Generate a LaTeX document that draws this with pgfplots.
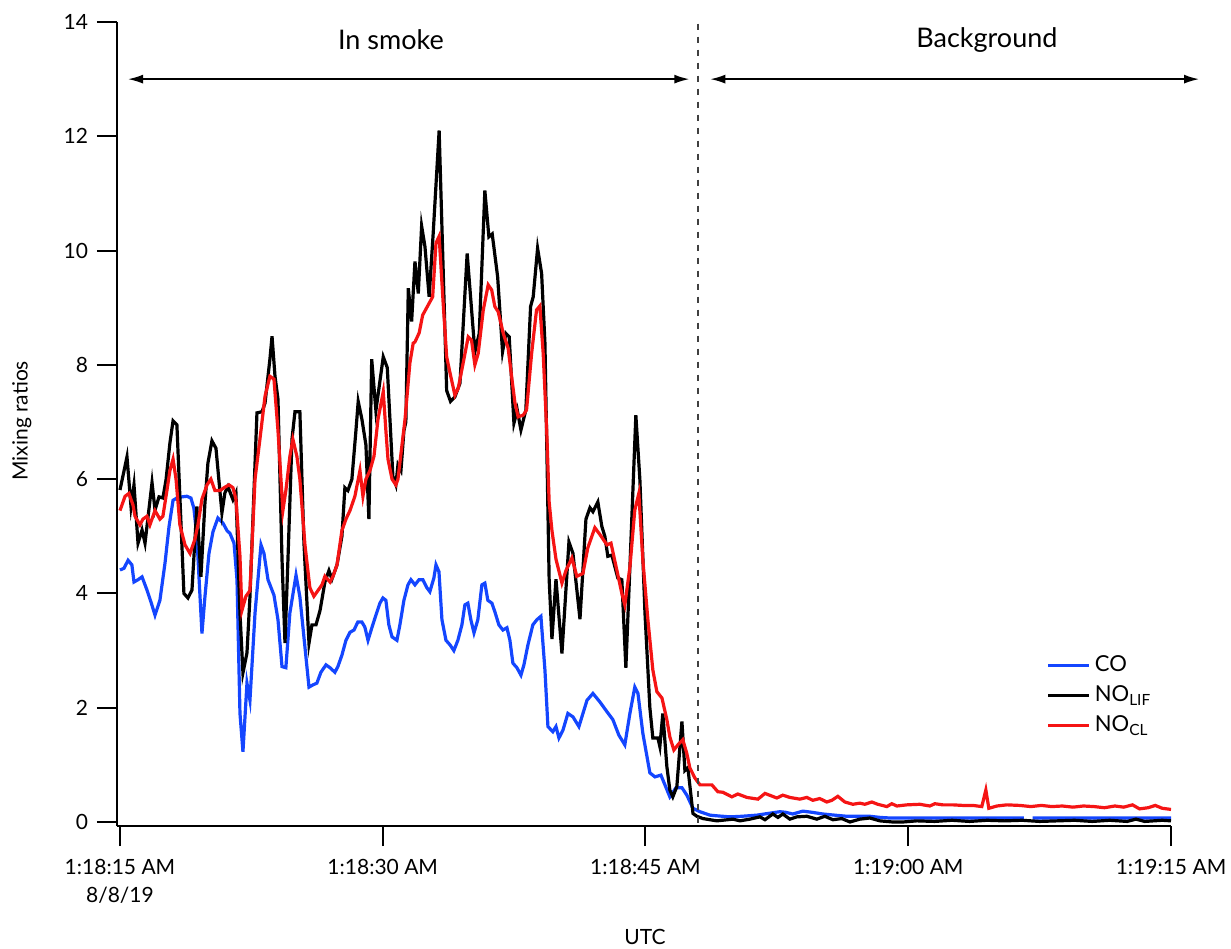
\documentclass[border=0pt]{standalone}
\usepackage{fontspec}
\setmainfont{Lato}
\usepackage{pgfplots}
\pgfplotsset{compat=1.18}
\usepackage{pgfplotstable}
\usetikzlibrary{arrows.meta}
\definecolor{coblue}{RGB}{20,70,255}
\definecolor{nored}{RGB}{245,20,20}

\pgfplotstableread[row sep=\\]{
t v\\
0.00 4.41\\ 0.23 4.44\\ 0.46 4.58\\ 0.68 4.50\\ 0.80 4.20\\ 1.03 4.24\\ 1.26 4.29\\ 1.54 4.06\\ 1.77 3.85\\ 2.00 3.62\\
2.28 3.88\\ 2.57 4.53\\ 2.80 5.17\\ 3.03 5.63\\ 3.25 5.67\\ 3.54 5.69\\ 3.82 5.70\\ 4.05 5.67\\ 4.22 5.49\\ 4.39 4.99\\
4.68 3.30\\ 4.85 3.94\\ 5.08 4.70\\ 5.31 5.08\\ 5.59 5.32\\ 5.88 5.23\\ 6.11 5.10\\ 6.28 5.05\\ 6.51 4.88\\ 6.68 4.24\\
6.85 1.90\\ 7.02 1.23\\ 7.25 2.43\\ 7.42 2.13\\ 7.71 3.66\\ 8.05 4.85\\ 8.22 4.70\\ 8.45 4.24\\ 8.79 3.97\\ 9.02 3.54\\
9.25 2.72\\ 9.47 2.70\\ 9.70 3.66\\ 10.05 4.32\\ 10.27 3.94\\ 10.79 2.36\\ 11.02 2.40\\ 11.24 2.43\\ 11.47 2.62\\ 11.76 2.75\\
11.99 2.70\\ 12.27 2.62\\ 12.44 2.72\\ 12.67 2.92\\ 12.90 3.18\\ 13.13 3.32\\ 13.36 3.36\\ 13.58 3.50\\ 13.81 3.50\\ 13.98 3.41\\
14.16 3.18\\ 14.38 3.40\\ 14.61 3.62\\ 14.84 3.83\\ 15.01 3.92\\ 15.18 3.88\\ 15.35 3.45\\ 15.53 3.24\\ 15.81 3.18\\ 15.98 3.45\\
16.21 3.88\\ 16.44 4.15\\ 16.61 4.24\\ 16.84 4.15\\ 17.07 4.24\\ 17.29 4.24\\ 17.52 4.10\\ 17.69 4.03\\ 17.92 4.27\\ 18.04 4.50\\
18.21 4.38\\ 18.38 3.54\\ 18.61 3.18\\ 18.84 3.10\\ 19.06 3.00\\ 19.29 3.18\\ 19.52 3.45\\ 19.69 3.80\\ 19.86 3.83\\ 20.03 3.54\\
20.21 3.31\\ 20.43 3.54\\ 20.66 4.15\\ 20.83 4.18\\ 21.00 3.88\\ 21.23 3.83\\ 21.40 3.68\\ 21.63 3.45\\ 21.86 3.36\\ 22.09 3.40\\
22.26 3.18\\ 22.43 2.78\\ 22.66 2.70\\ 22.89 2.57\\ 23.06 2.75\\ 23.29 3.10\\ 23.57 3.45\\ 23.80 3.54\\ 24.03 3.60\\ 24.26 2.66\\
24.43 1.67\\ 24.71 1.58\\ 24.89 1.67\\ 25.06 1.47\\ 25.29 1.61\\ 25.57 1.90\\ 25.86 1.84\\ 26.20 1.67\\ 26.66 2.13\\ 27.00 2.25\\
27.40 2.10\\ 27.80 1.93\\ 28.14 1.79\\ 28.48 1.52\\ 28.82 1.35\\ 29.11 1.90\\ 29.39 2.36\\ 29.57 2.25\\ 29.85 1.55\\ 30.25 0.86\\
30.54 0.79\\ 30.88 0.82\\ 31.11 0.65\\ 31.39 0.44\\ 31.74 0.60\\ 32.08 0.60\\ 32.36 0.47\\ 32.71 0.24\\ 33.11 0.18\\ 33.68 0.12\\
34.00 0.11\\ 34.82 0.09\\ 35.50 0.10\\ 36.36 0.12\\ 37.00 0.15\\ 37.67 0.18\\ 38.00 0.17\\ 38.41 0.14\\ 38.98 0.19\\ 39.50 0.17\\
40.13 0.14\\ 40.80 0.12\\ 41.50 0.10\\ 42.20 0.10\\ 42.81 0.10\\ 43.40 0.08\\ 43.95 0.07\\ 45.00 0.07\\ 47.00 0.07\\ 49.00 0.07\\
51.60 0.07\\ 51.80 nan\\ 52.10 0.07\\ 55.00 0.07\\ 58.00 0.07\\ 60.00 0.07\\
}\coData

\pgfplotstableread[row sep=\\]{
t v\\
0.00 5.81\\ 0.40 6.39\\ 0.63 5.52\\ 0.80 5.90\\ 1.03 4.88\\ 1.26 5.11\\ 1.43 4.88\\ 1.83 5.94\\ 2.00 5.46\\ 2.23 5.69\\
2.45 5.67\\ 2.63 5.99\\ 2.85 6.63\\ 3.03 7.02\\ 3.25 6.95\\ 3.42 5.69\\ 3.65 4.00\\ 3.88 3.92\\ 4.11 4.06\\ 4.39 5.52\\
4.62 4.29\\ 4.85 5.58\\ 5.02 6.28\\ 5.25 6.67\\ 5.48 6.54\\ 5.82 5.41\\ 5.99 5.76\\ 6.16 5.87\\ 6.45 5.64\\ 6.62 5.76\\
6.85 3.66\\ 7.02 2.61\\ 7.25 2.96\\ 7.42 3.94\\ 7.82 7.16\\ 8.11 7.18\\ 8.28 7.33\\ 8.56 8.10\\ 8.68 8.50\\ 8.85 7.80\\
9.02 7.40\\ 9.25 4.60\\ 9.42 3.13\\ 9.59 4.60\\ 9.82 6.70\\ 9.99 7.18\\ 10.27 7.18\\ 10.50 4.90\\ 10.79 3.13\\ 10.96 3.45\\
11.19 3.45\\ 11.42 3.70\\ 11.70 4.20\\ 11.93 4.40\\ 12.10 4.25\\ 12.39 4.50\\ 12.67 5.00\\ 12.84 5.85\\ 13.01 5.80\\ 13.24 6.00\\
13.47 6.85\\ 13.60 7.36\\ 13.81 7.05\\ 14.04 6.60\\ 14.21 5.30\\ 14.37 8.10\\ 14.61 7.20\\ 15.03 8.14\\ 15.26 7.95\\ 15.47 6.70\\
15.58 6.05\\ 15.75 5.90\\ 15.87 6.25\\ 16.04 6.15\\ 16.21 6.85\\ 16.32 7.00\\ 16.46 9.34\\ 16.65 8.76\\ 16.84 9.81\\ 17.03 9.25\\
17.22 10.43\\ 17.41 10.07\\ 17.65 9.19\\ 17.88 10.30\\ 18.22 12.10\\ 18.65 7.55\\ 18.87 7.36\\ 19.12 7.44\\ 19.41 7.68\\ 19.82 9.95\\
20.26 8.23\\ 20.51 8.55\\ 20.83 11.05\\ 21.06 10.24\\ 21.25 10.29\\ 21.56 9.54\\ 21.84 8.23\\ 22.03 8.55\\ 22.22 8.49\\ 22.49 6.98\\
22.68 7.21\\ 22.89 6.86\\ 23.17 7.21\\ 23.44 9.02\\ 23.59 9.19\\ 23.84 10.04\\ 24.07 9.60\\ 24.26 8.38\\ 24.50 4.25\\ 24.66 3.20\\
24.89 4.25\\ 25.23 2.95\\ 25.63 4.90\\ 25.86 4.70\\ 26.26 3.55\\ 26.60 5.30\\ 26.83 5.50\\ 27.00 5.43\\ 27.28 5.60\\ 27.51 5.17\\
27.68 5.00\\ 27.85 4.65\\ 28.08 4.67\\ 28.42 4.27\\ 28.65 4.24\\ 28.88 2.70\\ 29.11 4.46\\ 29.45 7.12\\ 29.68 5.99\\ 29.97 3.66\\
30.25 2.00\\ 30.42 1.47\\ 30.71 1.47\\ 30.82 1.32\\ 30.99 1.90\\ 31.22 0.97\\ 31.39 0.56\\ 31.56 0.44\\ 31.79 0.62\\ 32.08 1.76\\
32.25 0.90\\ 32.42 0.95\\ 32.71 0.15\\ 32.93 0.10\\ 33.28 0.06\\ 34.08 0.02\\ 34.99 0.05\\ 35.39 0.02\\ 35.96 0.05\\ 36.53 0.09\\
36.82 0.04\\ 37.27 0.14\\ 37.56 0.08\\ 37.84 0.14\\ 38.24 0.05\\ 38.64 0.09\\ 39.21 0.10\\ 39.78 0.05\\ 40.24 0.10\\ 40.70 0.04\\
41.21 0.06\\ 41.67 0.00\\ 42.24 0.05\\ 42.81 0.07\\ 43.38 0.02\\ 44.12 0.00\\ 44.69 0.00\\ 45.49 0.02\\ 46.50 0.01\\ 47.50 0.03\\
48.50 0.01\\ 49.50 0.03\\ 50.50 0.02\\ 51.50 0.03\\ 52.50 0.01\\ 53.50 0.02\\ 54.50 0.03\\ 55.50 0.01\\ 56.50 0.03\\ 57.50 0.01\\
58.00 0.05\\ 58.50 0.01\\ 59.50 0.03\\ 60.00 0.02\\
}\lifData

\pgfplotstableread[row sep=\\]{
t v\\
0.00 5.45\\ 0.29 5.70\\ 0.51 5.75\\ 0.74 5.55\\ 0.86 5.35\\ 1.14 5.20\\ 1.31 5.30\\ 1.54 5.35\\ 1.71 5.20\\ 2.00 5.45\\
2.28 5.30\\ 2.45 5.35\\ 2.68 5.80\\ 2.85 6.15\\ 3.03 6.35\\ 3.20 6.00\\ 3.42 5.20\\ 3.71 4.85\\ 4.00 4.70\\ 4.28 4.95\\
4.45 5.20\\ 4.68 5.65\\ 4.97 5.90\\ 5.19 6.00\\ 5.42 5.80\\ 5.71 5.80\\ 5.94 5.85\\ 6.22 5.90\\ 6.45 5.85\\ 6.62 5.65\\
6.85 4.65\\ 6.96 3.70\\ 7.19 3.95\\ 7.42 4.05\\ 7.71 6.00\\ 7.99 6.70\\ 8.28 7.45\\ 8.56 7.80\\ 8.79 7.75\\ 9.02 6.85\\
9.30 5.45\\ 9.47 5.80\\ 9.70 6.40\\ 9.87 6.70\\ 10.10 6.40\\ 10.27 6.00\\ 10.56 4.85\\ 10.84 4.10\\ 11.07 3.95\\ 11.30 4.05\\
11.53 4.15\\ 11.70 4.30\\ 11.99 4.20\\ 12.16 4.30\\ 12.39 4.50\\ 12.67 5.10\\ 12.90 5.30\\ 13.13 5.45\\ 13.41 5.70\\ 13.70 6.15\\
13.87 5.70\\ 14.04 6.00\\ 14.27 6.15\\ 14.50 6.40\\ 14.73 7.05\\ 15.03 7.53\\ 15.18 6.85\\ 15.30 6.35\\ 15.53 6.00\\ 15.75 5.90\\
15.87 6.00\\ 16.10 6.60\\ 16.27 7.04\\ 16.55 8.03\\ 16.74 8.38\\ 16.84 8.40\\ 17.08 8.56\\ 17.28 8.87\\ 17.51 9.00\\ 17.85 9.19\\
18.04 10.13\\ 18.22 10.25\\ 18.45 9.08\\ 18.65 8.14\\ 18.84 7.86\\ 19.12 7.47\\ 19.31 7.59\\ 19.59 8.03\\ 19.88 8.49\\ 20.07 8.43\\
20.26 8.00\\ 20.45 8.20\\ 20.74 8.96\\ 21.02 9.40\\ 21.22 9.31\\ 21.40 9.02\\ 21.59 8.93\\ 21.88 8.55\\ 22.16 8.29\\ 22.36 7.79\\
22.55 7.33\\ 22.73 7.09\\ 23.02 7.12\\ 23.21 7.21\\ 23.50 8.20\\ 23.78 8.96\\ 23.97 9.03\\ 24.16 8.20\\ 24.36 6.86\\ 24.50 5.60\\
24.66 5.10\\ 24.89 4.60\\ 25.23 4.18\\ 25.46 4.40\\ 25.80 4.62\\ 26.08 4.30\\ 26.43 4.35\\ 26.71 4.80\\ 27.11 5.15\\ 27.40 5.03\\
27.80 4.85\\ 28.03 4.88\\ 28.37 4.40\\ 28.65 4.00\\ 28.82 3.80\\ 29.11 4.46\\ 29.39 5.46\\ 29.62 5.75\\ 29.85 4.58\\ 30.14 3.53\\
30.42 2.66\\ 30.65 2.28\\ 30.94 2.17\\ 31.22 1.79\\ 31.39 1.49\\ 31.62 1.26\\ 31.85 1.35\\ 32.13 1.44\\ 32.36 1.20\\ 32.53 0.95\\
32.82 0.77\\ 33.11 0.65\\ 33.28 0.65\\ 33.79 0.65\\ 34.13 0.53\\ 34.42 0.52\\ 34.93 0.44\\ 35.27 0.49\\ 35.79 0.43\\ 36.42 0.40\\
36.82 0.50\\ 37.50 0.42\\ 37.84 0.47\\ 38.24 0.43\\ 38.81 0.40\\ 39.21 0.43\\ 39.55 0.38\\ 39.95 0.41\\ 40.35 0.35\\ 40.64 0.38\\
40.98 0.45\\ 41.38 0.35\\ 41.84 0.31\\ 42.24 0.33\\ 42.52 0.31\\ 42.92 0.35\\ 43.26 0.31\\ 43.78 0.27\\ 44.06 0.32\\ 44.35 0.28\\
44.92 0.30\\ 45.66 0.31\\ 46.23 0.28\\ 46.52 0.32\\ 46.97 0.30\\ 47.55 0.30\\ 48.12 0.29\\ 48.69 0.29\\ 49.20 0.27\\ 49.43 0.56\\
49.60 0.24\\ 50.06 0.28\\ 50.63 0.30\\ 51.37 0.29\\ 52.00 0.27\\ 52.60 0.29\\ 53.20 0.27\\ 53.80 0.28\\ 54.40 0.26\\ 55.00 0.28\\
55.60 0.27\\ 56.20 0.25\\ 56.80 0.28\\ 57.30 0.26\\ 57.80 0.30\\ 58.20 0.23\\ 58.70 0.25\\ 59.10 0.29\\ 59.50 0.24\\ 60.00 0.22\\
}\clData

\begin{document}
\begin{tikzpicture}
\begin{axis}[
  scale only axis, width=527bp, height=402bp,
  xmin=-0.17, xmax=60, ymin=-0.07, ymax=14,
  axis x line*=bottom, axis y line*=left,
  axis line style={line width=1bp, black, -},
  every outer x axis line/.append style={-},
  every outer y axis line/.append style={-},
  tick align=outside, major tick length=10bp,
  every tick/.style={black, line width=1bp},
  xtick={0,15,30,45,60},
  xticklabels={{1:18:15 AM\\8/8/19},{1:18:30 AM},{1:18:45 AM},{1:19:00 AM},{1:19:15 AM}},
  xticklabel style={align=center, font=\fontsize{10.5bp}{14bp}\selectfont, yshift=-3bp},
  ytick={0,2,...,14},
  yticklabel style={font=\fontsize{10.5bp}{12bp}\selectfont, xshift=-1bp},
  /pgf/number format/assume math mode=true,
  xlabel={UTC}, ylabel={Mixing ratios},
  label style={font=\fontsize{10.5bp}{12bp}\selectfont},
  xlabel style={at={(axis description cs:0.501,-0.138)}, anchor=center},
  ylabel style={at={(axis description cs:-0.0902,0.504)}, anchor=center},
  clip=false,
  unbounded coords=jump,
  legend cell align=left,
  legend image code/.code={\draw[#1] (0bp,0bp) -- (20.5bp,0bp);},
  legend style={at={(axis description cs:0.876,0.222)}, anchor=north west,
    draw=none, fill=none, font=\fontsize{11bp}{13bp}\selectfont, row sep=1.5bp},
]
\addplot[coblue, line width=1.6bp] table[x=t,y=v] {\coData};
\addlegendentry{CO}
\addplot[black, line width=1.6bp] table[x=t,y=v] {\lifData};
\addlegendentry{NO\textsubscript{LIF}}
\addplot[nored, line width=1.6bp] table[x=t,y=v] {\clData};
\addlegendentry{NO\textsubscript{CL}}

\draw[black!75, line width=0.75bp, dash pattern=on 3bp off 3.5bp] (axis cs:33,13.97) -- (axis cs:33,-0.07);
\draw[line width=0.8bp, {Latex[length=7.5bp,width=4.5bp]}-{Latex[length=7.5bp,width=4.5bp]}] (axis cs:0.46,13.0) -- (axis cs:32.5,13.0);
\draw[line width=0.8bp, {Latex[length=7.5bp,width=4.5bp]}-{Latex[length=7.5bp,width=4.5bp]}] (axis cs:33.7,13.0) -- (axis cs:61.6,13.0);
\node[font=\fontsize{13.5bp}{16bp}\selectfont] at (axis cs:15.47,13.69) {In smoke};
\node[font=\fontsize{13.5bp}{16bp}\selectfont] at (axis cs:49.49,13.69) {Background};
\end{axis}
\pgfresetboundingbox
\path[use as bounding box] (current axis.south west) ++(-58.5bp,-61.5bp) rectangle ++(615.5bp,474.5bp);
\end{tikzpicture}
\end{document}
